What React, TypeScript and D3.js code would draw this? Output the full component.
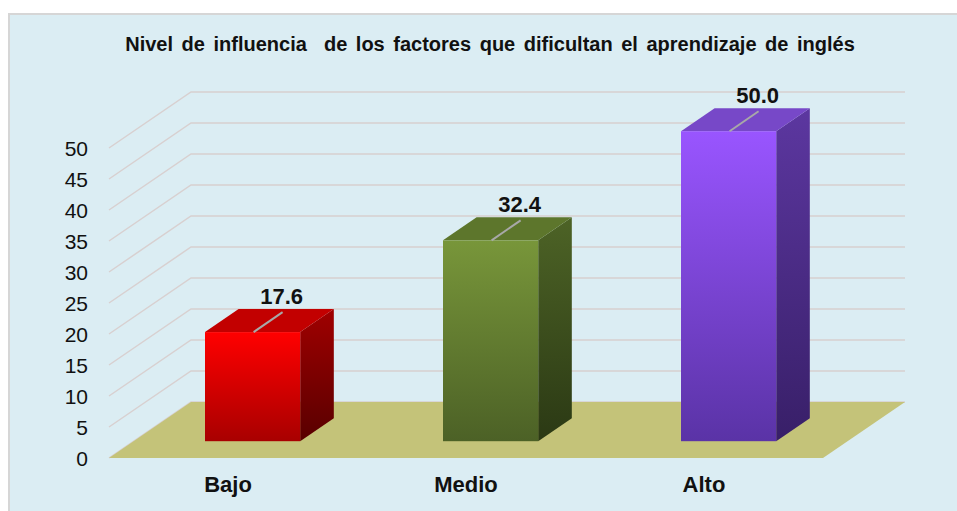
import React from 'react';
import * as d3 from 'd3';

const categories = ['Bajo', 'Medio', 'Alto'];
const values = [17.6, 32.4, 50.0];
const yTicks = [0, 5, 10, 15, 20, 25, 30, 35, 40, 45, 50];
const title = 'Nivel de influencia  de los factores que dificultan el aprendizaje de inglés';

// colores de cada barra: frente (arriba, abajo), tapa, lado (arriba, abajo)
const barColors = [
  { front: ['#ff0000', '#a80000'], top: '#c20000', side: ['#a00000', '#580000'] },
  { front: ['#78963a', '#4c6126'], top: '#5d762c', side: ['#4d6326', '#2b3914'] },
  { front: ['#9955ff', '#5a33a6'], top: '#7748c8', side: ['#5c37a0', '#381f68'] },
];

export default function App() {
  const width = 957, height = 511;
  // profundidad 3D: desplazamiento de la pared del fondo
  const depthX = 82, depthY = -56;
  const zFront = 0.3, zBack = 0.71;

  const x = d3.scaleBand<string>().domain(categories).range([109, 823]).paddingInner(0);
  const y = d3.scaleLinear().domain([0, 50]).range([458, 148]);

  const P = (px: number, v: number, z: number): [number, number] => [px + depthX * z, y(v) + depthY * z];
  const poly = (pts: [number, number][]) => pts.map(p => p.join(',')).join(' ');

  const bw = x.bandwidth();
  const barW = bw * 0.4;
  const x0 = x(categories[0])!;
  const xEnd = x0 + bw * categories.length;

  return (
    <svg width={width} height={height} style={{ position: 'fixed', left: 0, top: 0 }}
      fontFamily="Arial, 'Liberation Sans', sans-serif">
      <defs>
        {barColors.map((c, i) => (
          <React.Fragment key={i}>
            <linearGradient id={`front${i}`} x1="0" y1="0" x2="0" y2="1">
              <stop offset="0" stopColor={c.front[0]} />
              <stop offset="1" stopColor={c.front[1]} />
            </linearGradient>
            <linearGradient id={`side${i}`} x1="0" y1="0" x2="0" y2="1">
              <stop offset="0" stopColor={c.side[0]} />
              <stop offset="1" stopColor={c.side[1]} />
            </linearGradient>
          </React.Fragment>
        ))}
      </defs>
      <rect x={0} y={0} width={width} height={height} fill="#ffffff" />
      <rect x={9} y={14} width={width + 10} height={height + 10} fill="#dbedf3" stroke="#d6d6d6" strokeWidth={2} />

      <text x={490} y={51} textAnchor="middle" fontSize={20} fontWeight="bold" fill="#111"
        style={{ whiteSpace: 'pre' }} wordSpacing={3}>{title}</text>

      {/* rejilla: pared izquierda y pared del fondo */}
      <g stroke="#d8d0d0" strokeWidth={1.5} fill="none">
        {yTicks.map(t => {
          const a = P(x0, t, 0), b = P(x0, t, 1), c = P(xEnd, t, 1);
          return <polyline key={t} points={poly([a, b, c])} />;
        })}
      </g>

      {/* suelo */}
      <polygon fill="#c4c379"
        points={poly([P(x0, 0, 0), P(xEnd, 0, 0), P(xEnd, 0, 1), P(x0, 0, 1)])} />

      {/* eje y */}
      <g fontSize={21} fill="#111" textAnchor="end">
        {yTicks.map(t => (
          <text key={t} x={88} y={y(t)} dy="0.36em">{t}</text>
        ))}
      </g>

      {/* barras */}
      {categories.map((cat, i) => {
        const v = values[i];
        const l = x(cat)! + (bw - barW) / 2;
        const r = l + barW;
        const fBL = P(l, 0, zFront), fTR = P(r, v, zFront), fTL = P(l, v, zFront), fBR = P(r, 0, zFront);
        const bTL = P(l, v, zBack), bTR = P(r, v, zBack), bBR = P(r, 0, zBack);
        const cx = (fTL[0] + fTR[0]) / 2;
        const top = fTL[1];
        return (
          <g key={cat}>
            <polygon fill={`url(#side${i})`} points={poly([fTR, bTR, bBR, fBR])} />
            <polygon fill={barColors[i].top} points={poly([fTL, bTL, bTR, fTR])} />
            <rect x={fBL[0]} y={fTL[1]} width={barW} height={fBL[1] - fTL[1]} fill={`url(#front${i})`} />
            <line x1={cx + 1} y1={top} x2={cx + 30} y2={top - 20} stroke="#a8a8a8" strokeWidth={2} />
            <text x={cx + 29} y={top - 28} textAnchor="middle" fontSize={22} fontWeight="bold" fill="#111">
              {d3.format('.1f')(v)}
            </text>
          </g>
        );
      })}

      {/* categorías */}
      <g fontSize={22} fontWeight="bold" fill="#111" textAnchor="middle">
        {categories.map(cat => (
          <text key={cat} x={x(cat)! + bw / 2} y={492}>{cat}</text>
        ))}
      </g>
    </svg>
  );
}
